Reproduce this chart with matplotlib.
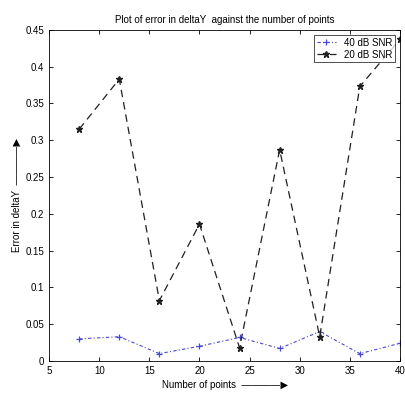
import matplotlib
matplotlib.use('Agg')
import matplotlib.pyplot as plt

# number of points on the x axis
n_points = [8, 12, 16, 20, 24, 28, 32, 36, 40]
# error in deltaY
err_40db = [0.030, 0.033, 0.010, 0.020, 0.032, 0.017, 0.040, 0.010, 0.024]
err_20db = [0.315, 0.383, 0.082, 0.186, 0.018, 0.287, 0.033, 0.373, 0.437]
x_ticks = [5, 10, 15, 20, 25, 30, 35, 40]
y_ticks = [0, 0.05, 0.1, 0.15, 0.2, 0.25, 0.3, 0.35, 0.4, 0.45]

plt.rcParams['font.family'] = ['Liberation Sans', 'DejaVu Sans']

fig = plt.figure(figsize=(4.06, 4.00), dpi=100)
ax = fig.add_axes([0.121, 0.0975, 0.864, 0.828])

ax.plot(n_points, err_40db, color='#4848d0', linestyle='-.', linewidth=0.8,
        dashes=(3, 2, 1, 2), marker='+', markersize=5, markeredgewidth=0.9,
        label='40 dB SNR')
ax.plot(n_points, err_20db, color='#202020', linestyle='--', linewidth=0.9,
        dashes=(6, 4), marker='*', markersize=4.5, label='20 dB SNR')

ax.set_xlim(5, 40)
ax.set_ylim(0, 0.45)
ax.set_xticks(x_ticks)
ax.set_xticklabels([str(t) for t in x_ticks])
ax.set_yticks(y_ticks)
ax.set_yticklabels(['0', '0.05', '0.1', '0.15', '0.2', '0.25', '0.3', '0.35', '0.4', '0.45'])
ax.tick_params(direction='in', top=True, right=True, labelsize=7, length=3, width=0.6)
for s in ax.spines.values():
    s.set_linewidth(0.6)

ax.set_title('Plot of error in deltaY  against the number of points', fontsize=7, pad=5)
ax.set_xlabel('Number of points  \u2014\u2014\u2014\u2014\u25B6', fontsize=7, labelpad=3)
ax.set_ylabel('Error in deltaY  \u2014\u2014\u2014\u2014\u25B6', fontsize=7, labelpad=3)

leg = ax.legend(loc='upper right', fontsize=7, frameon=True, fancybox=False,
                borderaxespad=0.5, handlelength=2.0, borderpad=0.3, labelspacing=0.2)
leg.get_frame().set_edgecolor('black')
leg.get_frame().set_linewidth(0.6)

fig.savefig('out.png', dpi=100)
